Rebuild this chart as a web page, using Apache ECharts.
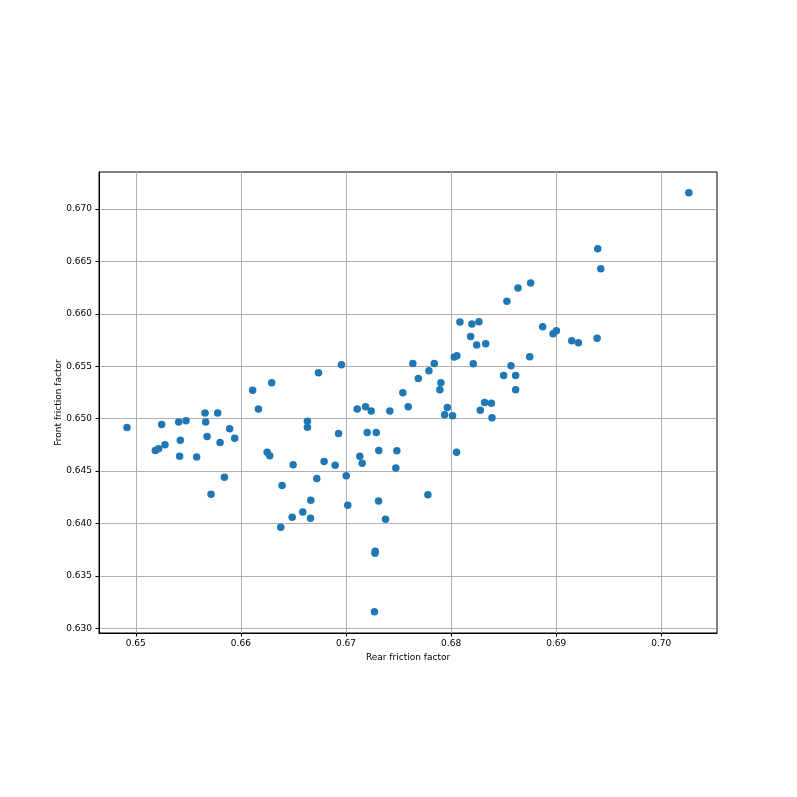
<!DOCTYPE html>
<html>
<head>
<meta charset="utf-8">
<script src="https://cdn.jsdelivr.net/npm/echarts@6/dist/echarts.min.js"></script>
<style>
  html, body { margin: 0; padding: 0; background: #fff; }
  #chart { width: 797px; height: 797px; }
</style>
</head>
<body>
<div id="chart"></div>
<script>
// rear friction factor (x) and front friction factor (y)
const rearFriction = [
  0.64916, 0.65186, 0.65217, 0.65246, 0.65278, 0.65408, 0.65417, 0.65424, 0.65478, 0.65579,
  0.65659, 0.65665, 0.65678, 0.65716, 0.65779, 0.65802, 0.65843, 0.65893, 0.65941, 0.66112,
  0.66167, 0.66250, 0.66274, 0.66293, 0.66379, 0.66392, 0.66488, 0.66497, 0.66589, 0.66633,
  0.66633, 0.66665, 0.66662, 0.66722, 0.66738, 0.66792, 0.66897, 0.66929, 0.66957, 0.67002,
  0.67017, 0.67107, 0.67131, 0.67154, 0.67186, 0.67202, 0.67240, 0.67278, 0.67276, 0.67271,
  0.67288, 0.67312, 0.67310, 0.67376, 0.67417, 0.67474, 0.67484, 0.67541, 0.67592, 0.67636,
  0.67688, 0.67779, 0.67789, 0.67840, 0.67903, 0.67893, 0.67938, 0.67964, 0.68014, 0.68030,
  0.68055, 0.68052, 0.68084, 0.68186, 0.68198, 0.68211, 0.68243, 0.68265, 0.68278, 0.68319,
  0.68329, 0.68383, 0.68389, 0.68500, 0.68531, 0.68570, 0.68614, 0.68614, 0.68636, 0.68748,
  0.68757, 0.68871, 0.68970, 0.69002, 0.69148, 0.69211, 0.69395, 0.69389, 0.69424, 0.70262
]
const frontFriction = [
  0.64915, 0.64695, 0.64712, 0.64944, 0.64750, 0.64967, 0.64642, 0.64795, 0.64979, 0.64635,
  0.65055, 0.64967, 0.64829, 0.64279, 0.65053, 0.64772, 0.64442, 0.64903, 0.64814, 0.65272,
  0.65091, 0.64680, 0.64645, 0.65342, 0.63964, 0.64361, 0.64060, 0.64559, 0.64110, 0.64976,
  0.64919, 0.64222, 0.64050, 0.64428, 0.65437, 0.64590, 0.64556, 0.64858, 0.65514, 0.64454,
  0.64174, 0.65091, 0.64642, 0.64575, 0.65113, 0.64867, 0.65074, 0.63735, 0.63716, 0.63158,
  0.64867, 0.64695, 0.64215, 0.64041, 0.65074, 0.64530, 0.64693, 0.65246, 0.65113, 0.65526,
  0.65383, 0.64273, 0.65456, 0.65526, 0.65342, 0.65275, 0.65036, 0.65106, 0.65027, 0.65587,
  0.65600, 0.64680, 0.65921, 0.65784, 0.65902, 0.65523, 0.65702, 0.65924, 0.65081, 0.65154,
  0.65714, 0.65148, 0.65008, 0.65411, 0.66120, 0.65504, 0.65411, 0.65275, 0.66246, 0.65590,
  0.66294, 0.65876, 0.65810, 0.65838, 0.65743, 0.65724, 0.66621, 0.65768, 0.66430, 0.67156
]
const xTicks = [0.65, 0.66, 0.67, 0.68, 0.69, 0.70]
const yTicks = [0.630, 0.635, 0.640, 0.645, 0.650, 0.655, 0.660, 0.665, 0.670]

const FONT = 'DejaVu Sans'
const GRID_COLOR = '#b0b0b0'

const chart = echarts.init(document.getElementById('chart'), null, { renderer: 'canvas' })

chart.setOption({
  animation: false,
  backgroundColor: '#fff',
  grid: {
    left: 99, top: 172, right: 80, bottom: 164,
    show: true, borderColor: '#000', borderWidth: 1,
  },
  xAxis: {
    type: 'value',
    min: 0.6465, max: 0.7053,
    name: 'Rear friction factor',
    nameLocation: 'middle',
    nameGap: 18,
    nameTextStyle: { fontFamily: FONT, fontSize: 9, color: '#000' },
    axisLine: { show: true, onZero: false, lineStyle: { color: '#000', width: 1 } },
    axisTick: { show: true, length: 3.5, customValues: xTicks, lineStyle: { color: '#000' } },
    axisLabel: {
      customValues: xTicks, margin: 6,
      fontFamily: FONT, fontSize: 9, color: '#000',
      formatter: (v) => v.toFixed(2),
    },
    splitLine: { show: true, lineStyle: { color: GRID_COLOR, width: 1 } },
  },
  yAxis: {
    type: 'value',
    min: 0.62955, max: 0.67353,
    name: 'Front friction factor',
    nameLocation: 'middle',
    nameGap: 36,
    nameMoveOverlap: false,
    nameTextStyle: { fontFamily: FONT, fontSize: 9, color: '#000' },
    axisLine: { show: true, onZero: false, lineStyle: { color: '#000', width: 1 } },
    axisTick: { show: true, length: 3.5, customValues: yTicks, lineStyle: { color: '#000' } },
    axisLabel: {
      customValues: yTicks, margin: 7,
      fontFamily: FONT, fontSize: 9, color: '#000',
      formatter: (v) => v.toFixed(3),
    },
    splitLine: { show: true, lineStyle: { color: GRID_COLOR, width: 1 } },
  },
  series: [
    {
      type: 'scatter',
      data: rearFriction.map((x, i) => [x, frontFriction[i]]),
      symbolSize: 7.5,
      itemStyle: { color: '#1f77b4', opacity: 1 },
    },
  ],
})
</script>
</body>
</html>
